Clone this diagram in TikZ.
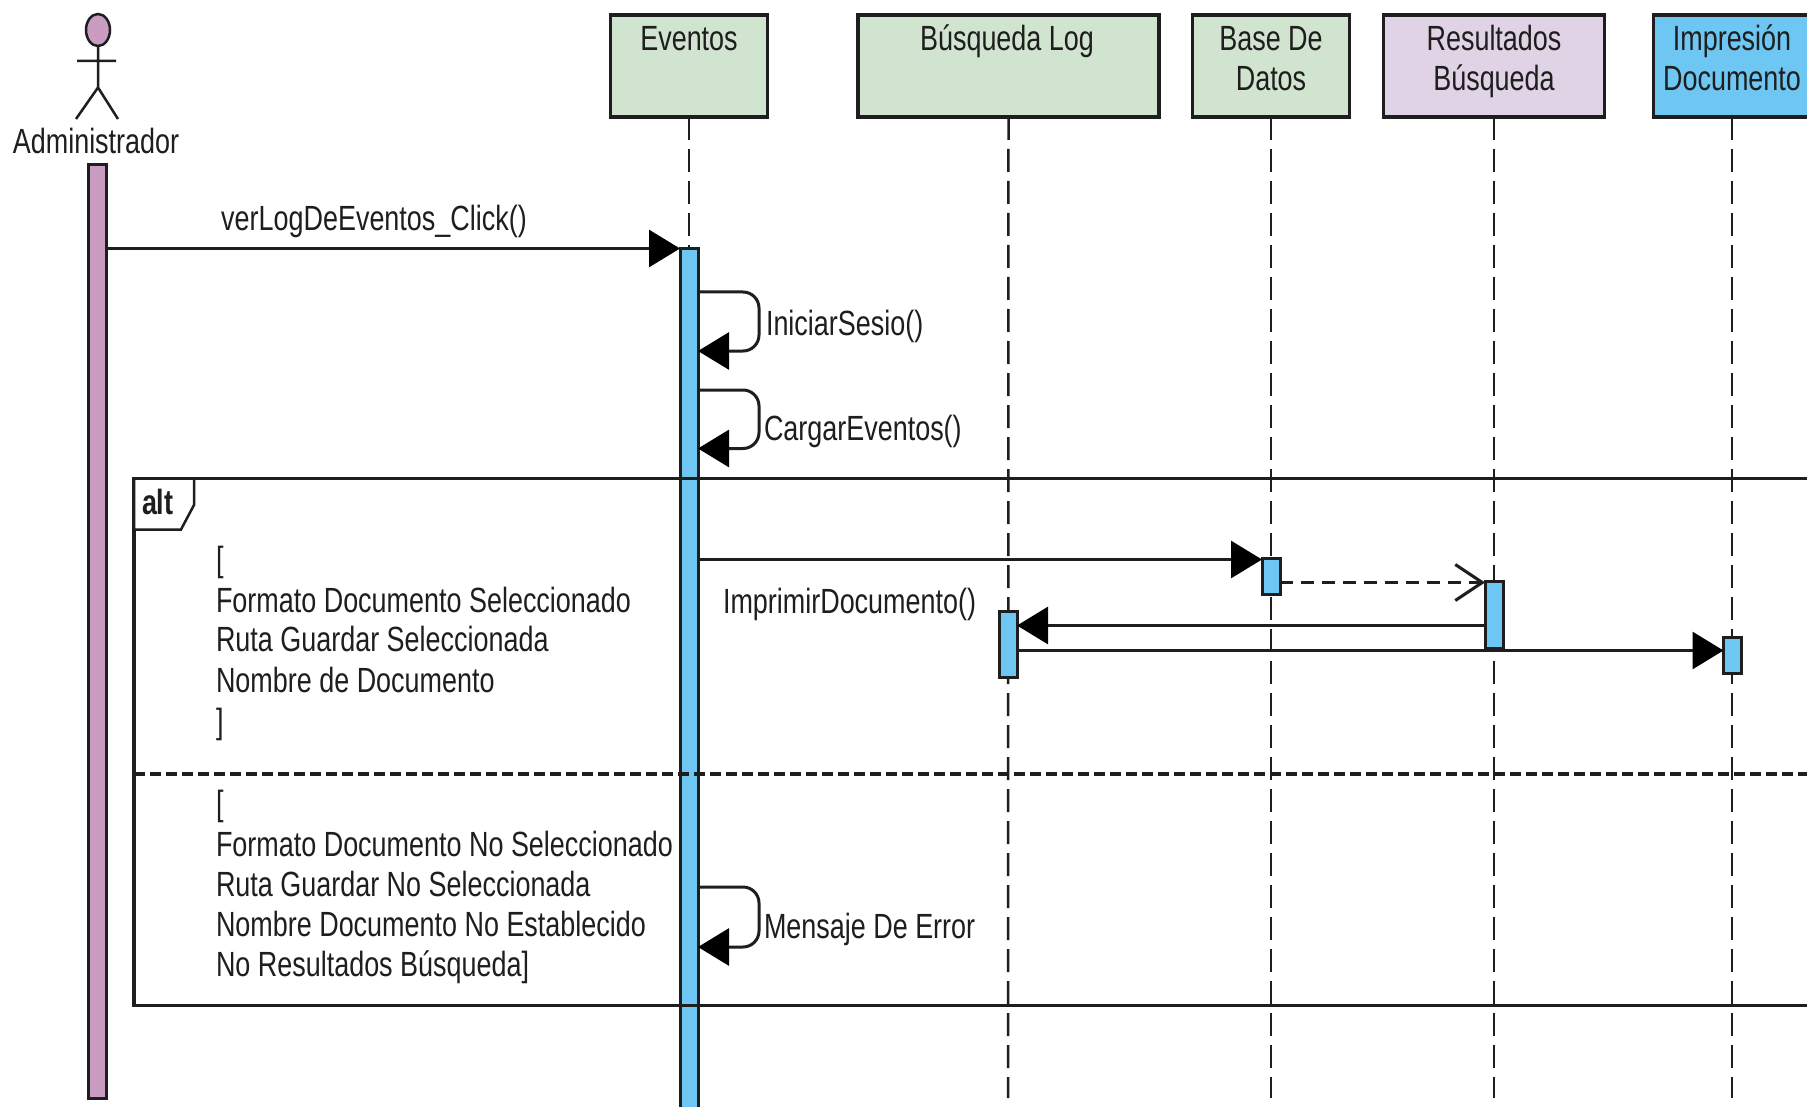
\documentclass[tikz,border=0pt]{standalone}
\usepackage{fontspec}
\setmainfont[FakeStretch=0.77]{Liberation Sans}
\usetikzlibrary{arrows.meta}
\definecolor{ink}{HTML}{1E1E1E}
\definecolor{grn}{HTML}{D0E4CF}
\definecolor{pur}{HTML}{E0D3E5}
\definecolor{blu}{HTML}{6EC6F2}
\definecolor{pnk}{HTML}{C99CC0}
\tikzset{
  x=1pt,y=-1pt,
  txt/.style={font=\fontsize{35}{38}\selectfont,text=ink,inner sep=0pt,outer sep=0pt},
  lifebox/.style={draw=ink,line width=3.5pt,inner sep=0pt,outer sep=0pt},
  lifeline/.style={draw=ink,line width=2.5pt,dash pattern=on 23pt off 9pt},
  barnode/.style={draw=ink,line width=3pt,inner sep=0pt,outer sep=0pt,minimum width=18pt},
  msg/.style={draw=ink,line width=3pt,-{Triangle[length=31pt,width=37pt,color=black]}},
  loopmsg/.style={msg,rounded corners=16pt},
  ret/.style={draw=ink,line width=3pt,dash pattern=on 13pt off 8pt,-{Straight Barb[length=27pt,width=36pt]}},
  stick/.style={draw=ink,line width=2.5pt}
}
\begin{document}
\begin{tikzpicture}
\useasboundingbox (0,0) rectangle (1807,1107);
\clip (0,0) rectangle (1807,1107);
\fill[white] (0,0) rectangle (1807,1107);
% lifeline heads
\node[lifebox,fill=grn,minimum width=157pt,minimum height=102pt] (ev) at (689,66) {};
\node[lifebox,fill=grn,minimum width=301pt,minimum height=102pt] (bl) at (1008.5,66) {};
\node[lifebox,fill=grn,minimum width=157pt,minimum height=102pt] (bd) at (1271,66) {};
\node[lifebox,fill=pur,minimum width=221pt,minimum height=102pt] (rb) at (1494,66) {};
\node[lifebox,fill=blu,minimum width=157pt,minimum height=102pt] (id) at (1732,66) {};
\node[txt,anchor=base] (evt) at (689,50.5) {Eventos};
\node[txt,anchor=base] (blt) at (1007,50.5) {Búsqueda Log};
\node[txt,anchor=base] (bdt) at (1271,50.5) {Base De};
\node[txt,anchor=base] (bdt2) at (1271,91) {Datos};
\node[txt,anchor=base] (rbt) at (1494,50.5) {Resultados};
\node[txt,anchor=base] (rbt2) at (1494,91) {Búsqueda};
\node[txt,anchor=base] (idt) at (1732,50.5) {Impresión};
\node[txt,anchor=base] (idt2) at (1732,91) {Documento};
% lifelines
\coordinate (evEnd) at (689,1107);
\coordinate (blEnd) at (1008,1098);
\coordinate (bdEnd) at (1271,1098);
\coordinate (rbEnd) at (1494,1098);
\coordinate (idEnd) at (1732,1098);
\draw[lifeline] (ev.south) -- (evEnd);
\draw[lifeline] (bl.south) -- (blEnd);
\draw[lifeline] (bd.south) -- (bdEnd);
\draw[lifeline] (rb.south) -- (rbEnd);
\draw[lifeline] (id.south) -- (idEnd);
% actor
\draw[stick,fill=pnk] (98,30) ellipse [x radius=12,y radius=16];
\draw[stick] (98,46) -- (98,87.5) (77,61) -- (116,61) (76,119) -- (98,87.5) -- (118,119);
\node[txt,anchor=base] (adt) at (96,153.5) {Administrador};
% activations
\node[barnode,fill=pnk,minimum height=934pt] (adb) at (97,631.5) {};
\node[barnode,fill=blu,minimum height=880pt] (evb) at (689,689) {};
\node[barnode,fill=blu,minimum height=36pt] (bdb) at (1271,576.5) {};
\node[barnode,fill=blu,minimum height=67pt] (rbb) at (1494,615) {};
\node[barnode,fill=blu,minimum height=66pt] (blb) at (1008,644) {};
\node[barnode,fill=blu,minimum height=36pt] (idb) at (1732.5,655.5) {};
% fragment
\node[draw=ink,line width=3.5pt,inner sep=0pt,outer sep=0pt,minimum width=1700pt,minimum height=527pt] (frag) at (984,742) {};
\draw[draw=ink,line width=3.5pt,dash pattern=on 11pt off 5pt] (frag.west |- 0,774) -- (frag.east |- 0,774);
\draw[draw=ink,line width=2.5pt,fill=white] (frag.north west) -- (194,478.5) -- (194,505) -- (181,529.5) -- (134,529.5) -- cycle;
\node[txt,anchor=base west,font=\fontsize{35}{38}\selectfont\bfseries] (alt) at (142,514.5) {alt};
% guards
\node[txt,anchor=base west] (g1) at (216,571) {[};
\node[txt,anchor=base west] (g2) at (216,612) {Formato Documento Seleccionado};
\node[txt,anchor=base west] (g3) at (216,651) {Ruta Guardar Seleccionada};
\node[txt,anchor=base west] (g4) at (216,692) {Nombre de Documento};
\node[txt,anchor=base west] (g5) at (216,733) {]};
\node[txt,anchor=base west] (h1) at (216,815) {[};
\node[txt,anchor=base west] (h2) at (216,856) {Formato Documento No Seleccionado};
\node[txt,anchor=base west] (h3) at (216,896) {Ruta Guardar No Seleccionada};
\node[txt,anchor=base west] (h4) at (216,936) {Nombre Documento No Establecido};
\node[txt,anchor=base west] (h5) at (216,976) {No Resultados Búsqueda]};
% messages
\draw[msg] (adb.east |- 0,248.5) -- (evb.west |- 0,248.5);
\node[txt,anchor=base] (m1) at (374,231) {verLogDeEventos\_Click()};
\draw[loopmsg] (evb.east |- 0,292) -- ++(61,0) -- ++(0,59) -- (evb.east |- 0,351);
\node[txt,anchor=base west] (m2) at (766,335) {IniciarSesio()};
\draw[loopmsg] (evb.east |- 0,390) -- ++(61,0) -- ++(0,58.5) -- (evb.east |- 0,448.5);
\node[txt,anchor=base west] (m3) at (764,440) {CargarEventos()};
\draw[msg] (evb.east |- 0,559.5) -- (bdb.west |- 0,559.5);
\draw[ret] (bdb.east |- 0,582.5) -- (rbb.west |- 0,582.5);
\draw[msg] (rbb.west |- 0,625.5) -- (blb.east |- 0,625.5);
\draw[msg] (blb.east |- 0,650.5) -- (idb.west |- 0,650.5);
\node[txt,anchor=base west] (m4) at (723,613.5) {ImprimirDocumento()};
\draw[loopmsg] (evb.east |- 0,887) -- ++(61,0) -- ++(0,60) -- (evb.east |- 0,947);
\node[txt,anchor=base west] (m5) at (764,938) {Mensaje De Error};
\end{tikzpicture}
\end{document}
